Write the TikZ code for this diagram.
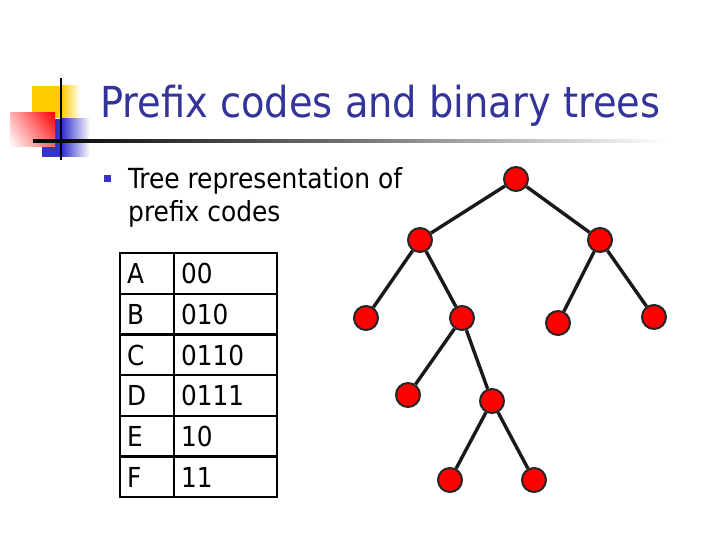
\documentclass[tikz,border=0pt]{standalone}
\usepackage{fontspec}
\usetikzlibrary{shadings}
\setmainfont{DejaVu Sans Condensed}
\definecolor{titleblue}{RGB}{51,51,153}
\definecolor{logoyellow}{RGB}{255,204,0}
\definecolor{logoblue}{RGB}{51,51,204}
\definecolor{nodered}{RGB}{255,0,0}
\tikzset{
  tnode/.style={circle, fill=nodered, draw=black!85, line width=2pt, minimum size=24pt, inner sep=0pt},
  edge/.style={line width=3.4pt, black!90},
  cell/.style={anchor=base west, font=\fontsize{27.5}{30}\selectfont, inner sep=0pt},
  rule/.style={line width=2.4pt}
}
\begin{document}
\begin{tikzpicture}[x=1pt, y=-1pt]
\useasboundingbox (0,0) rectangle (720,540);
% logo
\fill[logoyellow] (32,86) rectangle (62,118);
\shade[left color=logoyellow, right color=white] (62,86) rectangle (80,118);
\fill[logoblue] (42,119) rectangle (62,157);
\shade[left color=logoblue, right color=white] (62,119) rectangle (90,157);
\begin{scope}[y=1pt]
\shade[upper right=nodered, upper left=nodered!30!white, lower right=nodered!60!white, lower left=white] (10,-147) rectangle (55,-113);
\end{scope}
\shade[left color=black, right color=white, middle color=black!55] (33,140) rectangle (670,142.4);
\draw[line width=2.2pt, black] (61,78) -- (61,160);
% title
\node[anchor=base west, inner sep=0pt, text=titleblue, font=\fontsize{42.7}{50}\selectfont] (title) at (100,118) {Prefix codes and binary trees};
% bullet
\fill[logoblue] (103.5,175.5) rectangle (110.5,182.5);
\node[anchor=base west, inner sep=0pt, font=\fontsize{27.7}{33}\selectfont] (txt) at (128,189) {Tree representation of};
\node[anchor=base west, inner sep=0pt, font=\fontsize{27.7}{33}\selectfont] (txt2) at (128,222) {prefix codes};
% table
\draw[rule] (120,253) rectangle (277,497);
\draw[rule] (174,253) -- (174,497);
\foreach \y in {293.7,334.3,375,415.7,456.3} \draw[rule] (120,\y) -- (277,\y);
\foreach \l/\c [count=\i] in {A/00,B/010,C/0110,D/0111,E/10,F/11} {
  \node[cell] (l\i) at (127,253+40.67*\i-10) {\l};
  \node[cell] (c\i) at (181,253+40.67*\i-10) {\c};
}
% tree
\node[tnode] (r) at (516,179) {};
\node[tnode] (a) at (420,240) {};
\node[tnode] (b) at (600,240) {};
\node[tnode] (aa) at (366,318) {};
\node[tnode] (ab) at (462,318) {};
\node[tnode] (ba) at (558,323) {};
\node[tnode] (bb) at (654,317) {};
\node[tnode] (aba) at (408,395) {};
\node[tnode] (abb) at (492,401) {};
\node[tnode] (abba) at (450,480) {};
\node[tnode] (abbb) at (534,480) {};
\foreach \p/\q in {r/a,r/b,a/aa,a/ab,b/ba,b/bb,ab/aba,ab/abb,abb/abba,abb/abbb}
  \draw[edge] (\p) -- (\q);
\end{tikzpicture}
\end{document}
